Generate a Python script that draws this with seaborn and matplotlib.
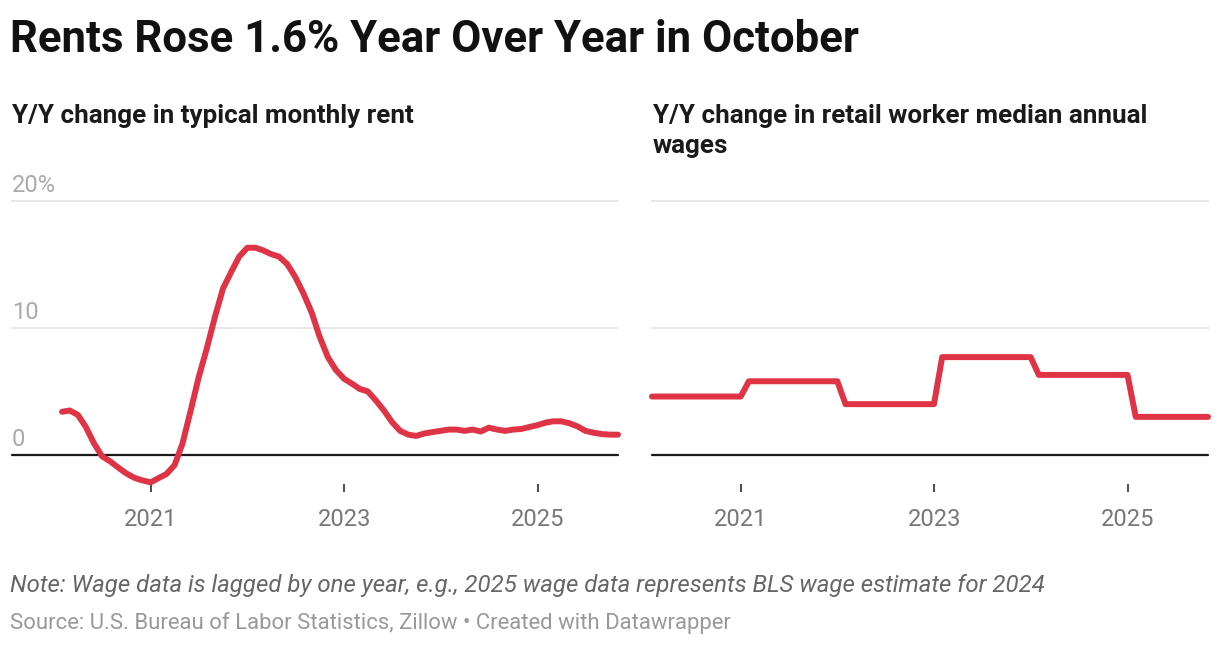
import numpy as np
import pandas as pd
import seaborn as sns
import matplotlib.pyplot as plt
import matplotlib.transforms as mtransforms

sns.set_style("white")
plt.rcParams["font.family"] = ["Roboto", "DejaVu Sans"]

# monthly data, Jan 2020 - Oct 2025 (plotted at month end)
months = pd.date_range("2020-01-31", periods=70, freq="ME")
rent_yoy = [3.4, 3.5, 3.15, 2.2, 0.9, -0.1, -0.5, -1.0, -1.45, -1.8, -2.0, -2.15,
            -1.8, -1.5, -0.8, 0.9, 3.5, 6.1, 8.4, 10.9, 13.1, 14.4, 15.6, 16.3,
            16.3, 16.1, 15.8, 15.6, 15.0, 14.0, 12.7, 11.2, 9.3, 7.7, 6.7, 6.0,
            5.6, 5.2, 5.0, 4.3, 3.5, 2.6, 1.9, 1.6, 1.5, 1.7, 1.8, 1.9,
            2.0, 2.0, 1.9, 2.0, 1.85, 2.15, 2.0, 1.9, 2.0, 2.05, 2.2, 2.35,
            2.55, 2.65, 2.65, 2.5, 2.25, 1.9, 1.75, 1.65, 1.6, 1.6]

# annual wage estimates (lagged one year), repeated over each year's months
wage_years = [2020, 2021, 2022, 2023, 2024, 2025]
wage_yoy_annual = [4.6, 5.8, 4.0, 7.7, 6.3, 3.0]
months_per_year = [12, 12, 12, 12, 12, 10]
wage_yoy = np.repeat(wage_yoy_annual, months_per_year)

df = pd.DataFrame({"date": months, "rent": rent_yoy, "wage": wage_yoy})

grid_vals = [10, 20]
ylabels = {0: "0", 10: "10", 20: "20%"}
xticks = [pd.Timestamp("2021-01-01"), pd.Timestamp("2023-01-01"), pd.Timestamp("2025-01-01")]
xticklabels = ["2021", "2023", "2025"]

RED = "#df3446"
W, H = 1220, 646
fig = plt.figure(figsize=(W / 100, H / 100), dpi=100)


def px_axes(x0, x1, ytop, ybot):
    return fig.add_axes([x0 / W, 1 - ybot / H, (x1 - x0) / W, (ybot - ytop) / H])


ax1 = px_axes(12, 618, 188, 484)
ax2 = px_axes(652, 1208, 188, 484)

for ax, col in [(ax1, "rent"), (ax2, "wage")]:
    for g in grid_vals:
        ax.axhline(g, color="#e5e5e5", lw=1.3, zorder=0)
    ax.axhline(0, color="#1a1a1a", lw=1.6, zorder=1)
    sns.lineplot(data=df, x="date", y=col, ax=ax, color=RED, lw=4.3, zorder=3)
    for ln in ax.lines:
        ln.set_solid_capstyle("round")
        ln.set_solid_joinstyle("round")
        ln.set_clip_on(False)
    ax.set_ylim(-2.28, 21)
    ax.set_yticks([])
    ax.set_xticks(xticks)
    ax.set_xticklabels(xticklabels)
    ax.tick_params(axis="x", direction="out", length=5.8, width=1.1, color="#1a1a1a",
                   pad=11.5, labelsize=17, labelcolor="#777777", bottom=True)
    ax.set_xlabel("")
    ax.set_ylabel("")
    for s in ax.spines.values():
        s.set_visible(False)
    ax.patch.set_alpha(0)

ax1.set_xlim(months[0] - pd.Timedelta(days=189), months[-1])
ax2.set_xlim(months[0], months[-1])

# y labels sit above the gridlines on the left panel
trans = mtransforms.blended_transform_factory(ax1.transAxes, ax1.transData)
off = mtransforms.ScaledTranslation(0, 6.5 / 72, fig.dpi_scale_trans)
for v, lbl in ylabels.items():
    ax1.text(0, v, lbl, transform=trans + off, ha="left", va="baseline",
             fontsize=17, color="#aaaaaa")

fig.text(10 / W, 1 - 52 / H, "Rents Rose 1.6% Year Over Year in October",
         fontsize=31.5, fontweight="bold", color="#111111", va="baseline")
fig.text(12 / W, 1 - 123 / H, "Y/Y change in typical monthly rent",
         fontsize=18.7, fontweight="bold", color="#1a1a1a", va="baseline")
fig.text(653 / W, 1 - 123 / H, "Y/Y change in retail worker median annual",
         fontsize=18.7, fontweight="bold", color="#1a1a1a", va="baseline")
fig.text(653 / W, 1 - 153 / H, "wages",
         fontsize=18.7, fontweight="bold", color="#1a1a1a", va="baseline")
fig.text(10 / W, 1 - 592 / H,
         "Note: Wage data is lagged by one year, e.g., 2025 wage data represents BLS wage estimate for 2024",
         fontsize=17.3, style="italic", color="#666666", va="baseline")
fig.text(10 / W, 1 - 629 / H,
         "Source: U.S. Bureau of Labor Statistics, Zillow \u2022 Created with Datawrapper",
         fontsize=15.9, color="#999999", va="baseline")

fig.savefig("out.png", dpi=100)
